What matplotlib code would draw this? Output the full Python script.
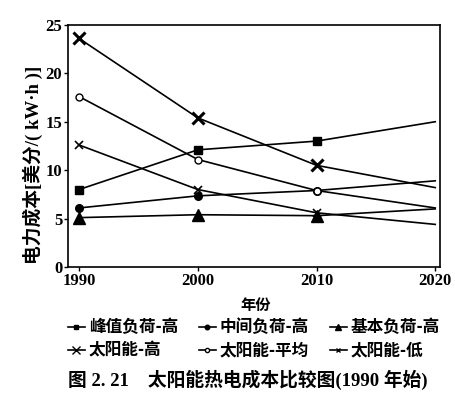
import matplotlib
matplotlib.use("Agg")
import matplotlib.pyplot as plt
from matplotlib.lines import Line2D

plt.rcParams['font.family'] = ['Liberation Serif', 'Noto Sans CJK SC']

years = [1990, 2000, 2010, 2020]
peak_high = [8.0, 12.1, 13.0, 15.0]
mid_high = [6.1, 7.35, 7.9, 8.9]
base_high = [5.1, 5.4, 5.3, 6.0]
solar_high = [23.6, 15.4, 10.5, 8.2]
solar_avg = [17.6, 11.1, 7.9, 6.1]
solar_low = [12.6, 8.0, 5.6, 4.4]

labels = ['峰值负荷-高', '中间负荷-高', '基本负荷-高', '太阳能-高', '太阳能-平均', '太阳能-低']
xticks = [1990, 2000, 2010, 2020]
yticks = [0, 5, 10, 15, 20, 25]

fig = plt.figure(figsize=(4.55, 3.95), dpi=100)
ax = fig.add_axes([0.149, 0.324, 0.818, 0.613])

styles = [
    dict(marker='s', ms=6, mfc='black', mew=1),
    dict(marker='o', ms=5.5, mfc='black', mew=1),
    dict(marker='^', ms=8, mfc='black', mew=1),
    dict(marker='x', ms=9, mfc='black', mew=2.2),
    dict(marker='o', ms=5, mfc='white', mew=1),
    dict(marker='x', ms=6, mfc='black', mew=1.2),
]
series = [peak_high, mid_high, base_high, solar_high, solar_avg, solar_low]
handles = []
for s, st, lb in zip(series, styles, labels):
    ax.plot(years, s, color='black', lw=1.2, markevery=[0, 1, 2],
            mec='black', **st)
    hst = dict(st)
    hst['ms'] = st['ms'] * 0.6
    hst['mew'] = min(st['mew'], 1.0)
    handles.append(Line2D([], [], color='black', lw=1.2, mec='black', label=lb, **hst))

ax.set_xlim(1989.05, 2020.4)
ax.set_ylim(0, 25)
ax.set_xticks(xticks)
ax.set_yticks(yticks)
ax.tick_params(direction='out', length=3, width=1, labelsize=12, pad=1)
for t in ax.get_xticklabels() + ax.get_yticklabels():
    t.set_fontweight('bold')
for sp in ax.spines.values():
    sp.set_linewidth(1.2)

cjk = ['Noto Sans CJK SC', 'DejaVu Sans']
mixed = ['Liberation Serif', 'Noto Sans CJK SC']
fig.text(33/455, 1 - 165/395, '电力成本[美分/( kW·h )]', rotation=90, ha='center', va='center',
         fontsize=13.5, fontweight='bold', family=mixed)
fig.text(256/455, 1 - 305/395, '年份', ha='center', va='center',
         fontsize=11, fontweight='bold', family=cjk)

order = [0, 3, 1, 4, 2, 5]
leg = fig.legend([handles[i] for i in order], [labels[i] for i in order],
                 ncol=3, loc='center', bbox_to_anchor=(254/455, 1 - 339/395),
                 frameon=False, handlelength=1.0, handletextpad=0.25,
                 columnspacing=1.25, labelspacing=0.3,
                 prop=dict(family=cjk, size=12, weight='bold'))

fig.text(248/455, 1 - 380/395, '图 2. 21    太阳能热电成本比较图(1990 年始)', ha='center', va='center',
         fontsize=13.5, fontweight='bold', family=mixed)

fig.savefig('out.png', dpi=100)
